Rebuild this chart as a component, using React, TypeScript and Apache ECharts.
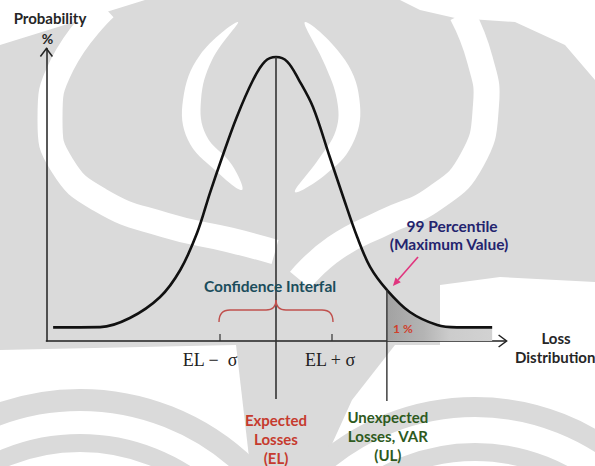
import React, { useEffect, useRef } from "react";
import * as echarts from "echarts";

// Loss in units of sigma relative to EL, probability relative to the peak
const curveX = [-3.98, -3.14, -2.61, -2.07, -1.71, -1.41, -1.18, -0.96, -0.7, -0.41, -0.2, 0, 0.2, 0.41, 0.66, 0.96, 1.2, 1.45, 1.68, 1.98, 2.39, 2.88, 3.23, 3.86];
const curveY = [0.048, 0.049, 0.081, 0.155, 0.25, 0.38, 0.521, 0.648, 0.789, 0.919, 0.984, 1.0, 0.984, 0.919, 0.824, 0.648, 0.507, 0.366, 0.261, 0.18, 0.102, 0.056, 0.048, 0.048];
const EL = 0;
const SIGMA = 1;
const VAR = 1.98;
const VAR_Y = 0.18;
const PEAK_Y = 1.0;
const tickLabels = ["EL \u2212  \u03c3", "EL + \u03c3"];
const elLabel = ["Expected", "Losses", "(EL)"];
const ulLabel = ["Unexpected", "Losses, VAR", "(UL)"];

const FONT = "Lato, 'Open Sans', sans-serif";
const WM_GRAY = "#dadada";

function watermark(): any[] {
  const W = "#ffffff";
  const z = -10;
  const poly = (points: number[][], fill: string, smooth = 0) => ({ type: "polygon", z, silent: true, shape: { points, smooth }, style: { fill } });
  const band = (points: number[][], w: number, stroke = W) => ({ type: "polyline", z, silent: true, shape: { points, smooth: 0.5 }, style: { stroke, lineWidth: w, fill: "none", lineCap: "butt" } });
  const arc = (cx: number, cy: number, r: number, w: number, stroke: string) => ({ type: "arc", z, silent: true, shape: { cx, cy, r, startAngle: Math.PI, endAngle: 2 * Math.PI }, style: { stroke, lineWidth: w, fill: "none" } });
  return [
    { type: "rect", z: -11, silent: true, shape: { x: 0, y: 0, width: 595, height: 466 }, style: { fill: WM_GRAY } },
    poly([[0, 0], [145, 0], [0, 45]], W),
    poly([[400, 0], [595, 0], [595, 80], [565, 45], [515, 22], [455, 18], [420, 10]], W),
    band([[105, 8], [62, 65], [50, 120], [62, 165], [100, 200], [165, 225], [230, 240], [275, 252]], 25),
    poly([[238, 22], [200, 55], [183, 100], [188, 140], [215, 170], [242, 190], [232, 165], [206, 135], [201, 100], [212, 60]], W, 0.4),
    poly([[305, 22], [345, 60], [360, 105], [352, 145], [325, 175], [295, 192], [318, 160], [336, 130], [337, 100], [325, 65]], W, 0.4),
    band([[462, 14], [480, 60], [486, 105], [472, 160], [435, 198], [385, 222], [335, 248], [300, 280]], 26),
    poly([[440, 285], [500, 277], [595, 282], [595, 400], [500, 395], [440, 360]], W),
    poly([[0, 350], [236, 345], [250, 466], [0, 466]], W),
    poly([[395, 345], [595, 345], [595, 466], [322, 466], [352, 400]], W),
    arc(80, 640, 240, 22, WM_GRAY),
    arc(80, 640, 197, 18, WM_GRAY),
    arc(475, 640, 233, 20, WM_GRAY),
    arc(475, 640, 188, 18, WM_GRAY),
  ];
}

export default function App() {
  const ref = useRef<HTMLDivElement>(null);
  useEffect(() => {
    document.body.style.margin = "0";
    const chart = echarts.init(ref.current!, null, { renderer: "svg" });
    const main = curveX.map((x, i) => [x, curveY[i]]);
    const tail = main.filter((d) => d[0] >= VAR);
    chart.setOption({
      animation: false,
      backgroundColor: "#ffffff",
      grid: { left: 46.4, width: 459.2, top: 48.5, height: 292.5 },
      xAxis: {
        type: "value",
        min: -4.1,
        max: 4.1,
        axisLine: { show: true, onZero: false, lineStyle: { color: "#222", width: 1.5 } },
        axisTick: { show: false },
        axisLabel: { show: false },
        splitLine: { show: false },
      },
      yAxis: {
        type: "value",
        min: 0,
        max: 1.03,
        axisLine: { show: true, onZero: false, lineStyle: { color: "#222", width: 1.5 } },
        axisTick: { show: false },
        axisLabel: { show: false },
        splitLine: { show: false },
      },
      series: [
        {
          type: "line",
          data: tail,
          smooth: 0.35,
          symbol: "none",
          lineStyle: { width: 0 },
          areaStyle: {
            color: new echarts.graphic.LinearGradient(0, 0, 1, 0, [
              { offset: 0, color: "#a2a2a2" },
              { offset: 0.35, color: "#b4b4b4" },
              { offset: 0.6, color: "#cccccc" },
              { offset: 1, color: "#d2d2d2" },
            ]),
            opacity: 1,
          },
          z: 1,
        },
        {
          type: "line",
          data: main,
          smooth: 0.35,
          symbol: "none",
          lineStyle: { color: "#111", width: 2.6 },
          z: 3,
        },
      ],
    });

    const p = (x: number, y: number) => chart.convertToPixel({ gridIndex: 0 }, [x, y]) as number[];
    const top = p(-4.1, 1.03);
    const right = p(4.1, 0);
    const axY = p(-4.1, 0)[1];
    const xEL = p(EL, 0)[0];
    const xL = p(EL - SIGMA, 0)[0];
    const xR = p(EL + SIGMA, 0)[0];
    const xVAR = p(VAR, 0)[0];
    const peak = p(EL, PEAK_Y);
    const varPt = p(VAR, VAR_Y);
    const dark = "#222";

    const g: any[] = watermark();
    // axis arrowheads
    g.push({ type: "polyline", shape: { points: [[top[0] - 6, top[1] + 8], [top[0], top[1]], [top[0] + 6, top[1] + 8]] }, style: { stroke: dark, lineWidth: 1.5, fill: "none" }, z: 10 });
    g.push({ type: "polyline", shape: { points: [[right[0] - 7, axY - 6], [right[0] + 1, axY], [right[0] - 7, axY + 6]] }, style: { stroke: dark, lineWidth: 1.5, fill: "none" }, z: 10 });
    // vertical lines
    g.push({ type: "line", shape: { x1: xEL, y1: peak[1], x2: xEL, y2: axY + 58 }, style: { stroke: "#333", lineWidth: 1.6 }, z: 5 });
    g.push({ type: "line", shape: { x1: xVAR, y1: varPt[1], x2: xVAR, y2: axY + 60 }, style: { stroke: "#333", lineWidth: 1.4 }, z: 5 });
    // sigma ticks
    [xL, xR].forEach((x) => g.push({ type: "line", shape: { x1: x, y1: axY, x2: x, y2: axY - 7 }, style: { stroke: "#333", lineWidth: 1.2 }, z: 5 }));
    // brace
    const bc = "#c0504d";
    const yEnd = axY - 19, yFlat = axY - 31, yCusp = axY - 41;
    const bs = { stroke: bc, lineWidth: 1.4, fill: "none" };
    g.push({ type: "bezierCurve", shape: { x1: xL - 1, y1: yEnd, x2: xL + 10, y2: yFlat, cpx1: xL - 1, cpy1: yFlat }, style: bs, z: 6 });
    g.push({ type: "line", shape: { x1: xL + 10, y1: yFlat, x2: xEL - 10, y2: yFlat }, style: bs, z: 6 });
    g.push({ type: "bezierCurve", shape: { x1: xEL - 10, y1: yFlat, x2: xEL, y2: yCusp, cpx1: xEL, cpy1: yFlat }, style: bs, z: 6 });
    g.push({ type: "bezierCurve", shape: { x1: xEL, y1: yCusp, x2: xEL + 10, y2: yFlat, cpx1: xEL, cpy1: yFlat }, style: bs, z: 6 });
    g.push({ type: "line", shape: { x1: xEL + 10, y1: yFlat, x2: xR - 10, y2: yFlat }, style: bs, z: 6 });
    g.push({ type: "bezierCurve", shape: { x1: xR - 10, y1: yFlat, x2: xR + 1, y2: yEnd, cpx1: xR + 1, cpy1: yFlat }, style: bs, z: 6 });

    const txt = (text: string, x: number, y: number, fill: string, font: string, align = "center") => ({
      type: "text",
      x,
      y,
      z: 20,
      style: { text, fill, font, textAlign: align, align, textVerticalAlign: "middle", verticalAlign: "middle" },
    });
    const bold = (s: number) => `bold ${s}px ${FONT}`;

    g.push(txt("Probability", 50, 18, "#262626", bold(15)));
    g.push(txt("%", top[0] + 1, 38, "#262626", bold(14)));
    g.push(txt("Confidence Interfal", xEL - 6, axY - 55, "#1b4d5c", bold(15.5)));
    g.push(txt(tickLabels[0], xL - 10, axY + 19, "#222", `18px 'Liberation Serif', serif`));
    g.push(txt(tickLabels[1], xR - 2, axY + 19, "#222", `18px 'Liberation Serif', serif`));
    g.push(txt("Loss", 556, axY - 3, "#262626", bold(15)));
    g.push(txt("Distribution", 515, axY + 16, "#262626", bold(15), "left"));
    g.push(txt("99 Percentile", 452, 226, "#24246e", bold(15.5)));
    g.push(txt("(Maximum Value)", 449, 244, "#24246e", bold(15.5)));
    g.push(txt("1 %", xVAR + 16, axY - 13, "#d0402b", bold(12)));
    elLabel.forEach((t, i) => g.push(txt(t, xEL, axY + 79 + i * 19, "#c63a2e", bold(15))));
    ulLabel.forEach((t, i) => g.push(txt(t, xVAR + 1, axY + 76 + i * 19, "#2e5a1e", bold(15))));

    // pink arrow
    const ax1 = 418, ay1 = 257, ax2 = xVAR + 6, ay2 = varPt[1] - 4;
    const ang = Math.atan2(ay2 - ay1, ax2 - ax1);
    const hl = 8, hw = 3.5;
    const bx = ax2 - hl * Math.cos(ang), by = ay2 - hl * Math.sin(ang);
    const pc = "#e0357e";
    g.push({ type: "line", shape: { x1: ax1, y1: ay1, x2: bx, y2: by }, style: { stroke: pc, lineWidth: 1.6 }, z: 10 });
    g.push({
      type: "polygon",
      shape: { points: [[ax2, ay2], [bx + hw * Math.sin(ang), by - hw * Math.cos(ang)], [bx - hw * Math.sin(ang), by + hw * Math.cos(ang)]] },
      style: { fill: pc },
      z: 10,
    });

    chart.setOption({ graphic: g });
    return () => chart.dispose();
  }, []);
  return <div ref={ref} style={{ width: 595, height: 466 }} />;
}
